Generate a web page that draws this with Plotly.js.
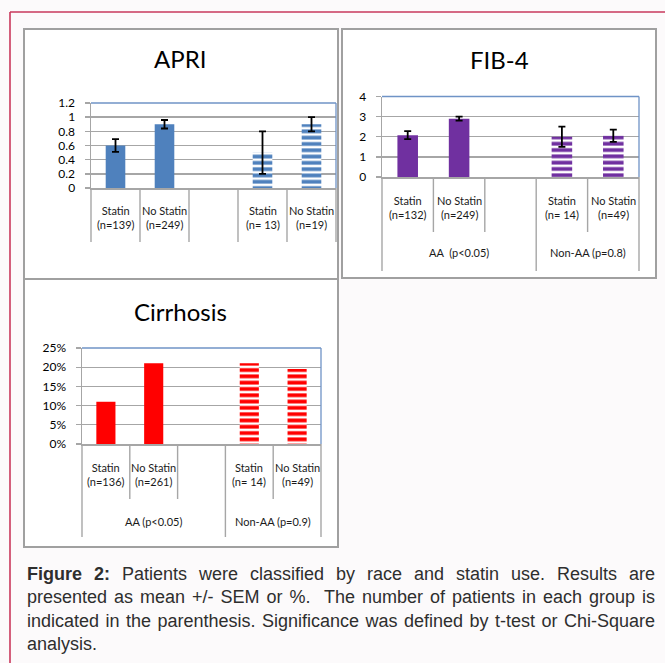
<!DOCTYPE html>
<html>
<head>
<meta charset="utf-8">
<script src="https://cdn.plot.ly/plotly-3.0.1.min.js"></script>
<style>
  html, body { margin:0; padding:0; background:#fcfafb; width:665px; height:663px; overflow:hidden; }
  #chart { position:absolute; left:0; top:0; width:665px; height:663px; }
  #caption { position:absolute; left:27px; top:563px; width:628px;
             font-family:"Liberation Sans", Arial, sans-serif; font-size:18px; line-height:23.4px; color:#2e2e2e; }
  #caption .j { text-align:justify; text-align-last:justify; }
  #caption .l { text-align:left; }
</style>
</head>
<body>
<div id="chart"></div>
<div id="caption">
  <div class="j"><b>Figure 2:</b> Patients were classified by race and statin use. Results are</div>
  <div class="j">presented as mean +/- SEM or %.&nbsp; The number of patients in each group is</div>
  <div class="j">indicated in the parenthesis. Significance was defined by t-test or Chi-Square</div>
  <div class="l">analysis.</div>
</div>
<script>
// ---------------- DATA ----------------
const categories = ['AA Statin', 'AA No Statin', 'gap', 'Non-AA Statin', 'Non-AA No Statin'];
const barPattern = ['', '', '', '-', '-'];   // solid = AA, striped = Non-AA

const apriTitle = 'APRI';
const apriLabels = ['Statin<br>(n=139)', 'No Statin<br>(n=249)', '', 'Statin<br>(n= 13)', 'No Statin<br>(n=19)'];
const apriValues = [0.6, 0.9, null, 0.5, 0.9];
const apriErrors = [0.09, 0.06, null, 0.3, 0.1];

const fibTitle = 'FIB-4';
const fibLabels = ['Statin<br>(n=132)', 'No Statin<br>(n=249)', '', 'Statin<br>(n= 14)', 'No Statin<br>(n=49)'];
const fibValues = [2.08, 2.9, null, 2.0, 2.05];
const fibErrors = [0.2, 0.1, null, 0.5, 0.3];
const fibGroups = ['AA&nbsp;&nbsp;(p&lt;0.05)', 'Non-AA (p=0.8)'];

const cirTitle = 'Cirrhosis';
const cirLabels = ['Statin<br>(n=136)', 'No Statin<br>(n=261)', '', 'Statin<br>(n= 14)', 'No Statin<br>(n=49)'];
const cirValues = [11, 21, null, 21, 19.5];
const cirGroups = ['AA (p&lt;0.05)', 'Non-AA (p=0.9)'];

// ---------------- LAYOUT HELPERS ----------------
const W = 665, H = 663;
const fx = x => x / W;
const fy = y => 1 - y / H;
const FONT = 'Lato, "Open Sans", sans-serif';
const GRID = '#a6a6a6';
const BLUE_BORDER = '#6f93c6';

const charts = [
  { id: '', title: apriTitle, labels: apriLabels, values: apriValues, errors: apriErrors, groups: null,
    color: '#4f81bd', range: [0, 1.2], dtick: 0.2, suffix: '',
    panel: [24, 29, 338, 279], plot: [91, 103, 336, 188], titlePos: [180, 58],
    labelY: 217.5, shortBottom: 242, longBottom: 242, groupY: null },
  { id: '2', title: fibTitle, labels: fibLabels, values: fibValues, errors: fibErrors, groups: fibGroups,
    color: '#7030a0', range: [0, 4], dtick: 1, suffix: '',
    panel: [342, 29, 656, 278], plot: [382, 96.5, 639, 177], titlePos: [499, 59],
    labelY: 207.5, shortBottom: 232, longBottom: 271, groupY: 253 },
  { id: '3', title: cirTitle, labels: cirLabels, values: cirValues, errors: null, groups: cirGroups,
    color: '#ff0000', range: [0, 25], dtick: 5, suffix: '%',
    panel: [24, 279, 338, 547], plot: [82, 348, 321, 444], titlePos: [180, 311],
    labelY: 474.5, shortBottom: 499, longBottom: 537, groupY: 521 }
];

const groupSpans = [[0, 3], [3, 5]];

const data = [];
const shapes = [];
const annotations = [];
const layout = {
  width: W, height: H,
  margin: { l: 0, r: 0, t: 0, b: 0 },
  paper_bgcolor: '#fcfafb',
  plot_bgcolor: 'rgba(0,0,0,0)',
  showlegend: false,
  barmode: 'overlay',
  font: { family: FONT, color: '#000' }
};

// panels first (below everything)
charts.forEach(c => {
  shapes.push({ type: 'rect', xref: 'paper', yref: 'paper', layer: 'below',
    x0: fx(c.panel[0]), x1: fx(c.panel[2]), y0: fy(c.panel[3]), y1: fy(c.panel[1]),
    fillcolor: '#ffffff', line: { color: '#a0a0a0', width: 2 } });
});

charts.forEach(c => {
  const xa = 'x' + c.id, ya = 'y' + c.id;
  const xKey = 'xaxis' + c.id, yKey = 'yaxis' + c.id;
  const n = categories.length;

  const trace = {
    type: 'bar', x: categories, y: c.values, xaxis: xa, yaxis: ya, width: 0.4,
    marker: { color: c.color, line: { width: 0 },
      pattern: { shape: barPattern, size: 6.3, solidity: 0.6, fgcolor: c.color, bgcolor: '#ffffff', fillmode: 'replace' } },
    hoverinfo: 'skip'
  };
  if (c.errors) {
    trace.error_y = { type: 'data', array: c.errors, visible: true, color: '#000', thickness: 1.8, width: 3.5 };
  }
  data.push(trace);

  layout[xKey] = {
    domain: [fx(c.plot[0]), fx(c.plot[2])], anchor: ya,
    type: 'category', categoryorder: 'array', categoryarray: categories,
    range: [-0.5, n - 0.5], fixedrange: true,
    showgrid: false, showticklabels: false, ticks: '', zeroline: false,
    showline: true, linecolor: GRID, linewidth: 1.5
  };
  layout[yKey] = {
    domain: [fy(c.plot[3]), fy(c.plot[1])], anchor: xa,
    range: c.range, dtick: c.dtick, tick0: 0, ticksuffix: c.suffix, fixedrange: true,
    showgrid: true, gridcolor: GRID, gridwidth: 1.4, zeroline: false,
    showline: true, linecolor: GRID, linewidth: 1.5,
    ticks: 'outside', ticklen: 5, tickwidth: 1.4, tickcolor: GRID,
    ticklabelstandoff: 7,
    tickfont: { family: FONT, size: 12, color: '#000' }
  };

  // plot-area border (top and right)
  shapes.push({ type: 'line', xref: xa + ' domain', yref: ya + ' domain', x0: 0, x1: 1, y0: 1, y1: 1,
    line: { color: BLUE_BORDER, width: 1.3 } });
  shapes.push({ type: 'line', xref: xa + ' domain', yref: ya + ' domain', x0: 1, x1: 1, y0: 0, y1: 1,
    line: { color: BLUE_BORDER, width: 1.3 } });

  // category dividers below the axis
  const boundaries = c.groups ? [0, 3, 5] : [];
  for (let i = 0; i <= n; i++) {
    const isLong = boundaries.indexOf(i) >= 0;
    shapes.push({ type: 'line', xref: xa + ' domain', yref: 'paper',
      x0: i / n, x1: i / n, y0: fy(c.plot[3]), y1: fy(isLong ? c.longBottom : c.shortBottom),
      line: { color: GRID, width: 1.4 } });
  }

  // category labels
  categories.forEach((cat, i) => {
    if (!c.labels[i]) return;
    annotations.push({ xref: xa, yref: 'paper', x: cat, y: fy(c.labelY),
      text: c.labels[i], showarrow: false, xanchor: 'center', yanchor: 'middle',
      font: { family: FONT, size: 11, color: '#1a1a1a' } });
  });

  // group labels
  if (c.groups) {
    c.groups.forEach((g, gi) => {
      const s = groupSpans[gi];
      annotations.push({ xref: xa + ' domain', yref: 'paper', x: (s[0] + s[1]) / 2 / n, y: fy(c.groupY),
        text: g, showarrow: false, xanchor: 'center', yanchor: 'middle',
        font: { family: FONT, size: 11, color: '#1a1a1a' } });
    });
  }

  // chart title
  annotations.push({ xref: 'paper', yref: 'paper', x: fx(c.titlePos[0]), y: fy(c.titlePos[1]),
    text: c.title, showarrow: false, xanchor: 'center', yanchor: 'middle',
    font: { family: FONT, size: 24, color: '#000' } });
});

// page frame (crimson lines at left and top)
shapes.push({ type: 'line', xref: 'paper', yref: 'paper', x0: fx(10), x1: fx(10), y0: 0, y1: fy(12),
  line: { color: '#c9385c', width: 1.6 } });
shapes.push({ type: 'line', xref: 'paper', yref: 'paper', x0: fx(10), x1: 1, y0: fy(12), y1: fy(12),
  line: { color: '#c9385c', width: 1.6 } });

layout.shapes = shapes;
layout.annotations = annotations;

Plotly.newPlot('chart', data, layout, { staticPlot: true, displayModeBar: false });
</script>
</body>
</html>
